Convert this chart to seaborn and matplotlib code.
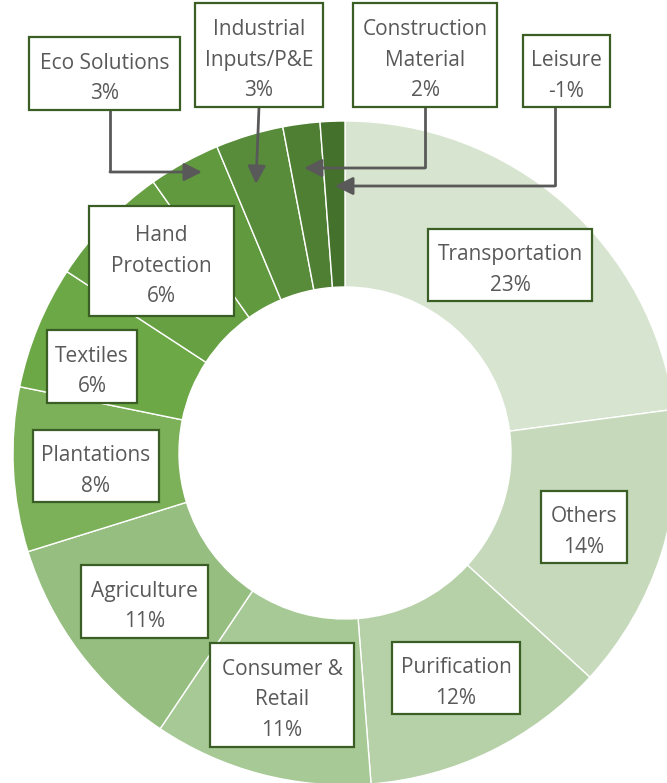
import matplotlib
matplotlib.use("Agg")
import seaborn as sns
import matplotlib.pyplot as plt
from matplotlib.patches import Rectangle

# Segment data (clockwise from 12 o'clock)
segments = [
    "Transportation", "Others", "Purification", "Consumer &\nRetail",
    "Agriculture", "Plantations", "Textiles", "Hand\nProtection",
    "Eco Solutions", "Industrial\nInputs/P&E", "Construction\nMaterial", "Leisure",
]
# percentages printed in the labels
label_pct = [23, 14, 12, 11, 11, 8, 6, 6, 3, 3, 2, -1]
slice_size = [22.9, 13.9, 11.95, 10.65, 10.8, 8.0, 6.0, 6.0, 3.5, 3.3, 1.8, 1.2]
colors = [
    "#D7E4CF", "#C6D9BB", "#B6D0A8", "#A6C995", "#95BE80", "#7CB15A",
    "#6CA846", "#67A043", "#61993F", "#588C3A", "#4E7F32", "#44712B",
]

# label boxes in pixel coords: (left, top, right, bottom)
boxes = [
    (428, 229, 592, 301), (541, 491, 627, 563), (392, 642, 520, 714),
    (210, 643, 354, 747), (81, 565, 208, 638), (33, 430, 159, 502),
    (47, 330, 137, 403), (89, 206, 234, 316), (29, 37, 180, 110),
    (195, 3, 323, 107), (353, 3, 497, 107), (523, 35, 610, 107),
]

W, H = 667, 783
CX, CY, R = 345, 453, 332


def px(x, y):
    return (x - CX) / R, (CY - y) / R


sns.set_theme(style="white")
plt.rcParams["font.family"] = ["Open Sans", "DejaVu Sans"]

fig = plt.figure(figsize=(W / 100, H / 100), dpi=100)
ax = fig.add_axes([0, 0, 1, 1])

ax.pie(
    slice_size,
    colors=colors,
    startangle=90,
    counterclock=False,
    radius=1,
    wedgeprops=dict(width=0.5, edgecolor="white", linewidth=1),
)
ax.set_xlim(px(0, 0)[0], px(W, 0)[0])
ax.set_ylim(px(0, H)[1], px(0, 0)[1])
ax.set_aspect("equal")
ax.axis("off")

# connector arrows for the small top slices
grey = "#595959"
arrows = [
    [(110, 110), (110, 172), (202, 172)],
    [(259, 107), (256, 184)],
    [(425, 107), (425, 168), (304, 168)],
    [(555, 107), (555, 186), (335, 186)],
]
for path in arrows:
    pts = [px(*p) for p in path]
    if len(pts) > 2:
        ax.plot([p[0] for p in pts[:-1]], [p[1] for p in pts[:-1]],
                color=grey, lw=2, solid_capstyle="butt", zorder=4)
    ax.annotate("", xy=pts[-1], xytext=pts[-2],
                arrowprops=dict(arrowstyle="-|>,head_length=0.9,head_width=0.45",
                                color=grey, lw=2, shrinkA=0, shrinkB=0),
                zorder=4)

# label boxes
for name, val, (l, t, r, b) in zip(segments, label_pct, boxes):
    x0, y0 = px(l, b)
    x1, y1 = px(r, t)
    ax.add_patch(Rectangle((x0, y0), x1 - x0, y1 - y0, facecolor="white",
                           edgecolor="#3B5E25", lw=1.6, zorder=5))
    ax.text((x0 + x1) / 2, (y0 + y1) / 2 - 5 / R, f"{name}\n{val}%",
            ha="center", va="center", fontsize=15, color=grey,
            linespacing=1.6, zorder=6)

fig.savefig("out.png", dpi=100)
